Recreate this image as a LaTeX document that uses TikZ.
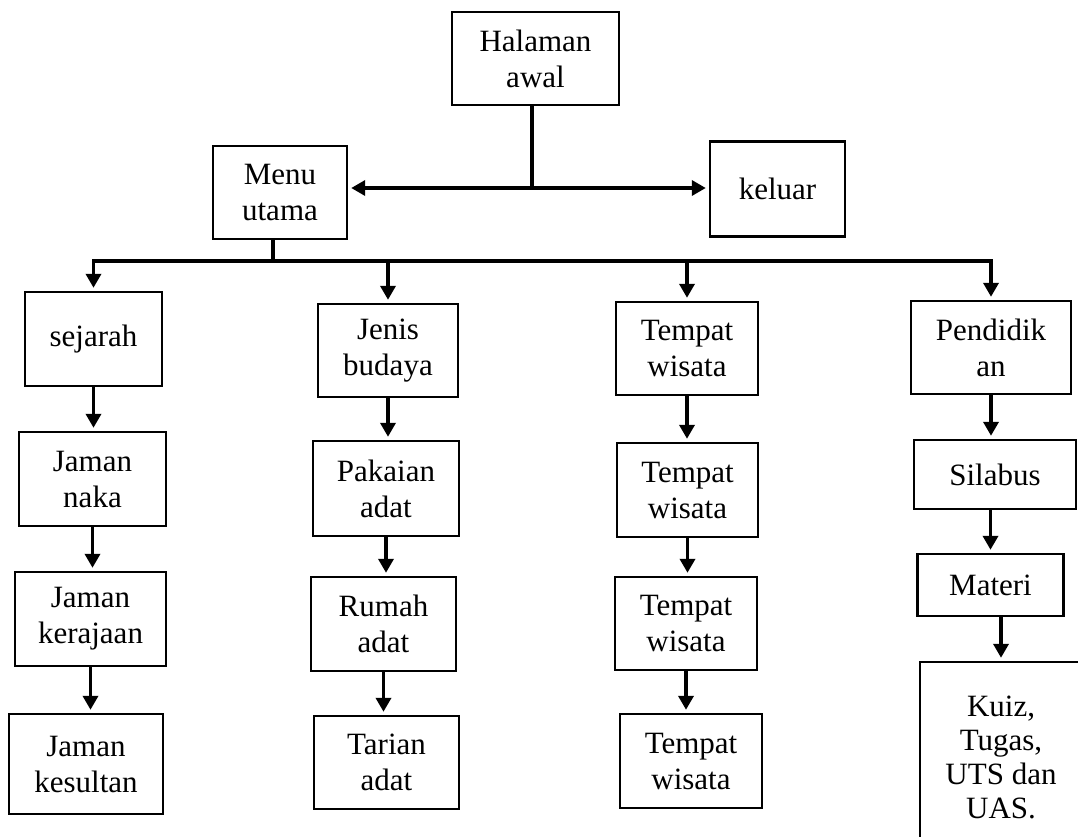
\documentclass[tikz,border=0pt]{standalone}
\usepackage{fontspec}
\setmainfont{Liberation Serif}
\usetikzlibrary{arrows.meta}
\begin{document}
\begin{tikzpicture}[x=1pt,y=-1pt,
  bx/.style={draw, line width=2.4pt, align=center, inner sep=0pt,
    font=\fontsize{31}{36}\selectfont},
  wh/.style 2 args={minimum width=#1pt, minimum height=#2pt},
  link/.style={line width=3.5pt},
  arr/.style={line width=3.5pt, -{Triangle[length=14pt,width=15pt]}, shorten >=3pt}]
\useasboundingbox (0,0) rectangle (1078,836);
\clip (0,0) rectangle (1078,836);

% top level
\node[bx, wh={167}{93}] (halaman) at (535.5,58.5) {Halaman\\awal};
\node[bx, wh={134}{93}] (menu) at (280,192.5) {Menu\\utama};
\node[bx, wh={135}{95}] (keluar) at (777.5,189) {keluar};

% column: sejarah
\node[bx, wh={137}{94}] (sejarah) at (93.5,339) {sejarah};
\node[bx, wh={147}{94}] (naka) at (92.5,479) {Jaman\\naka};
\node[bx, wh={151}{94}] (kerajaan) at (90.5,619) {Jaman\\kerajaan};
\node[bx, wh={154}{100}] (kesultan) at (86,764) {Jaman\\kesultan};

% column: jenis budaya
\node[bx, wh={140}{93}] (jenis) at (388,350.5) {Jenis\\budaya};
\node[bx, wh={146}{95}] (pakaian) at (386,488.5) {Pakaian\\adat};
\node[bx, wh={145}{94}] (rumah) at (383.5,624) {Rumah\\adat};
\node[bx, wh={145}{93}] (tarian) at (386.5,762.5) {Tarian\\adat};

% column: tempat wisata
\node[bx, wh={142}{93}] (tw1) at (687,348.5) {Tempat\\wisata};
\node[bx, wh={141}{94}] (tw2) at (687.5,490) {Tempat\\wisata};
\node[bx, wh={142}{93}] (tw3) at (686,623.5) {Tempat\\wisata};
\node[bx, wh={142}{94}] (tw4) at (691,761) {Tempat\\wisata};

% column: pendidikan
\node[bx, wh={160}{93}] (pend) at (991,347.5) {Pendidik\\an};
\node[bx, wh={162}{69}] (silabus) at (995,474.5) {Silabus};
\node[bx, wh={146}{62}] (materi) at (990.5,585) {Materi};
\node[bx, wh={162}{191}, font=\fontsize{31}{34}\selectfont] (kuiz) at (1001,757.5) {Kuiz,\\Tugas,\\UTS dan\\UAS.};

% start page to menu / exit
\coordinate (h0) at (532,188);
\draw[link] (halaman.south -| h0) -- (h0);
\draw[arr] (h0) -- (menu.east |- h0);
\draw[arr] (h0) -- (keluar.west |- h0);

% menu to the four branches
\coordinate (m0) at (273,261);
\draw[link] (menu.south -| m0) -- (m0);
\draw[link, line cap=rect] (sejarah.north |- m0) -- (pend.north |- m0);
\foreach \n in {sejarah, jenis, tw1, pend}
  \draw[arr] (\n.north |- m0) -- (\n.north);

% chains inside each branch
\draw[arr] (sejarah.south) -- (sejarah.south |- naka.north);
\draw[arr] (naka.south) -- (naka.south |- kerajaan.north);
\draw[arr] (kerajaan.south) -- (kerajaan.south |- kesultan.north);

\draw[arr] (jenis.south) -- (jenis.south |- pakaian.north);
\draw[arr] (pakaian.south) -- (pakaian.south |- rumah.north);
\draw[arr] (rumah.south) -- (rumah.south |- tarian.north);

\draw[arr] (tw1.south) -- (tw1.south |- tw2.north);
\draw[arr] (tw2.south) -- (tw2.south |- tw3.north);
\draw[arr] (tw3.south) -- (tw3.south |- tw4.north);

\draw[arr] (pend.south) -- (pend.south |- silabus.north);
\draw[arr] (materi.north |- silabus.south) -- (materi.north);
\draw[arr] (kuiz.north |- materi.south) -- (kuiz.north);
\end{tikzpicture}
\end{document}
